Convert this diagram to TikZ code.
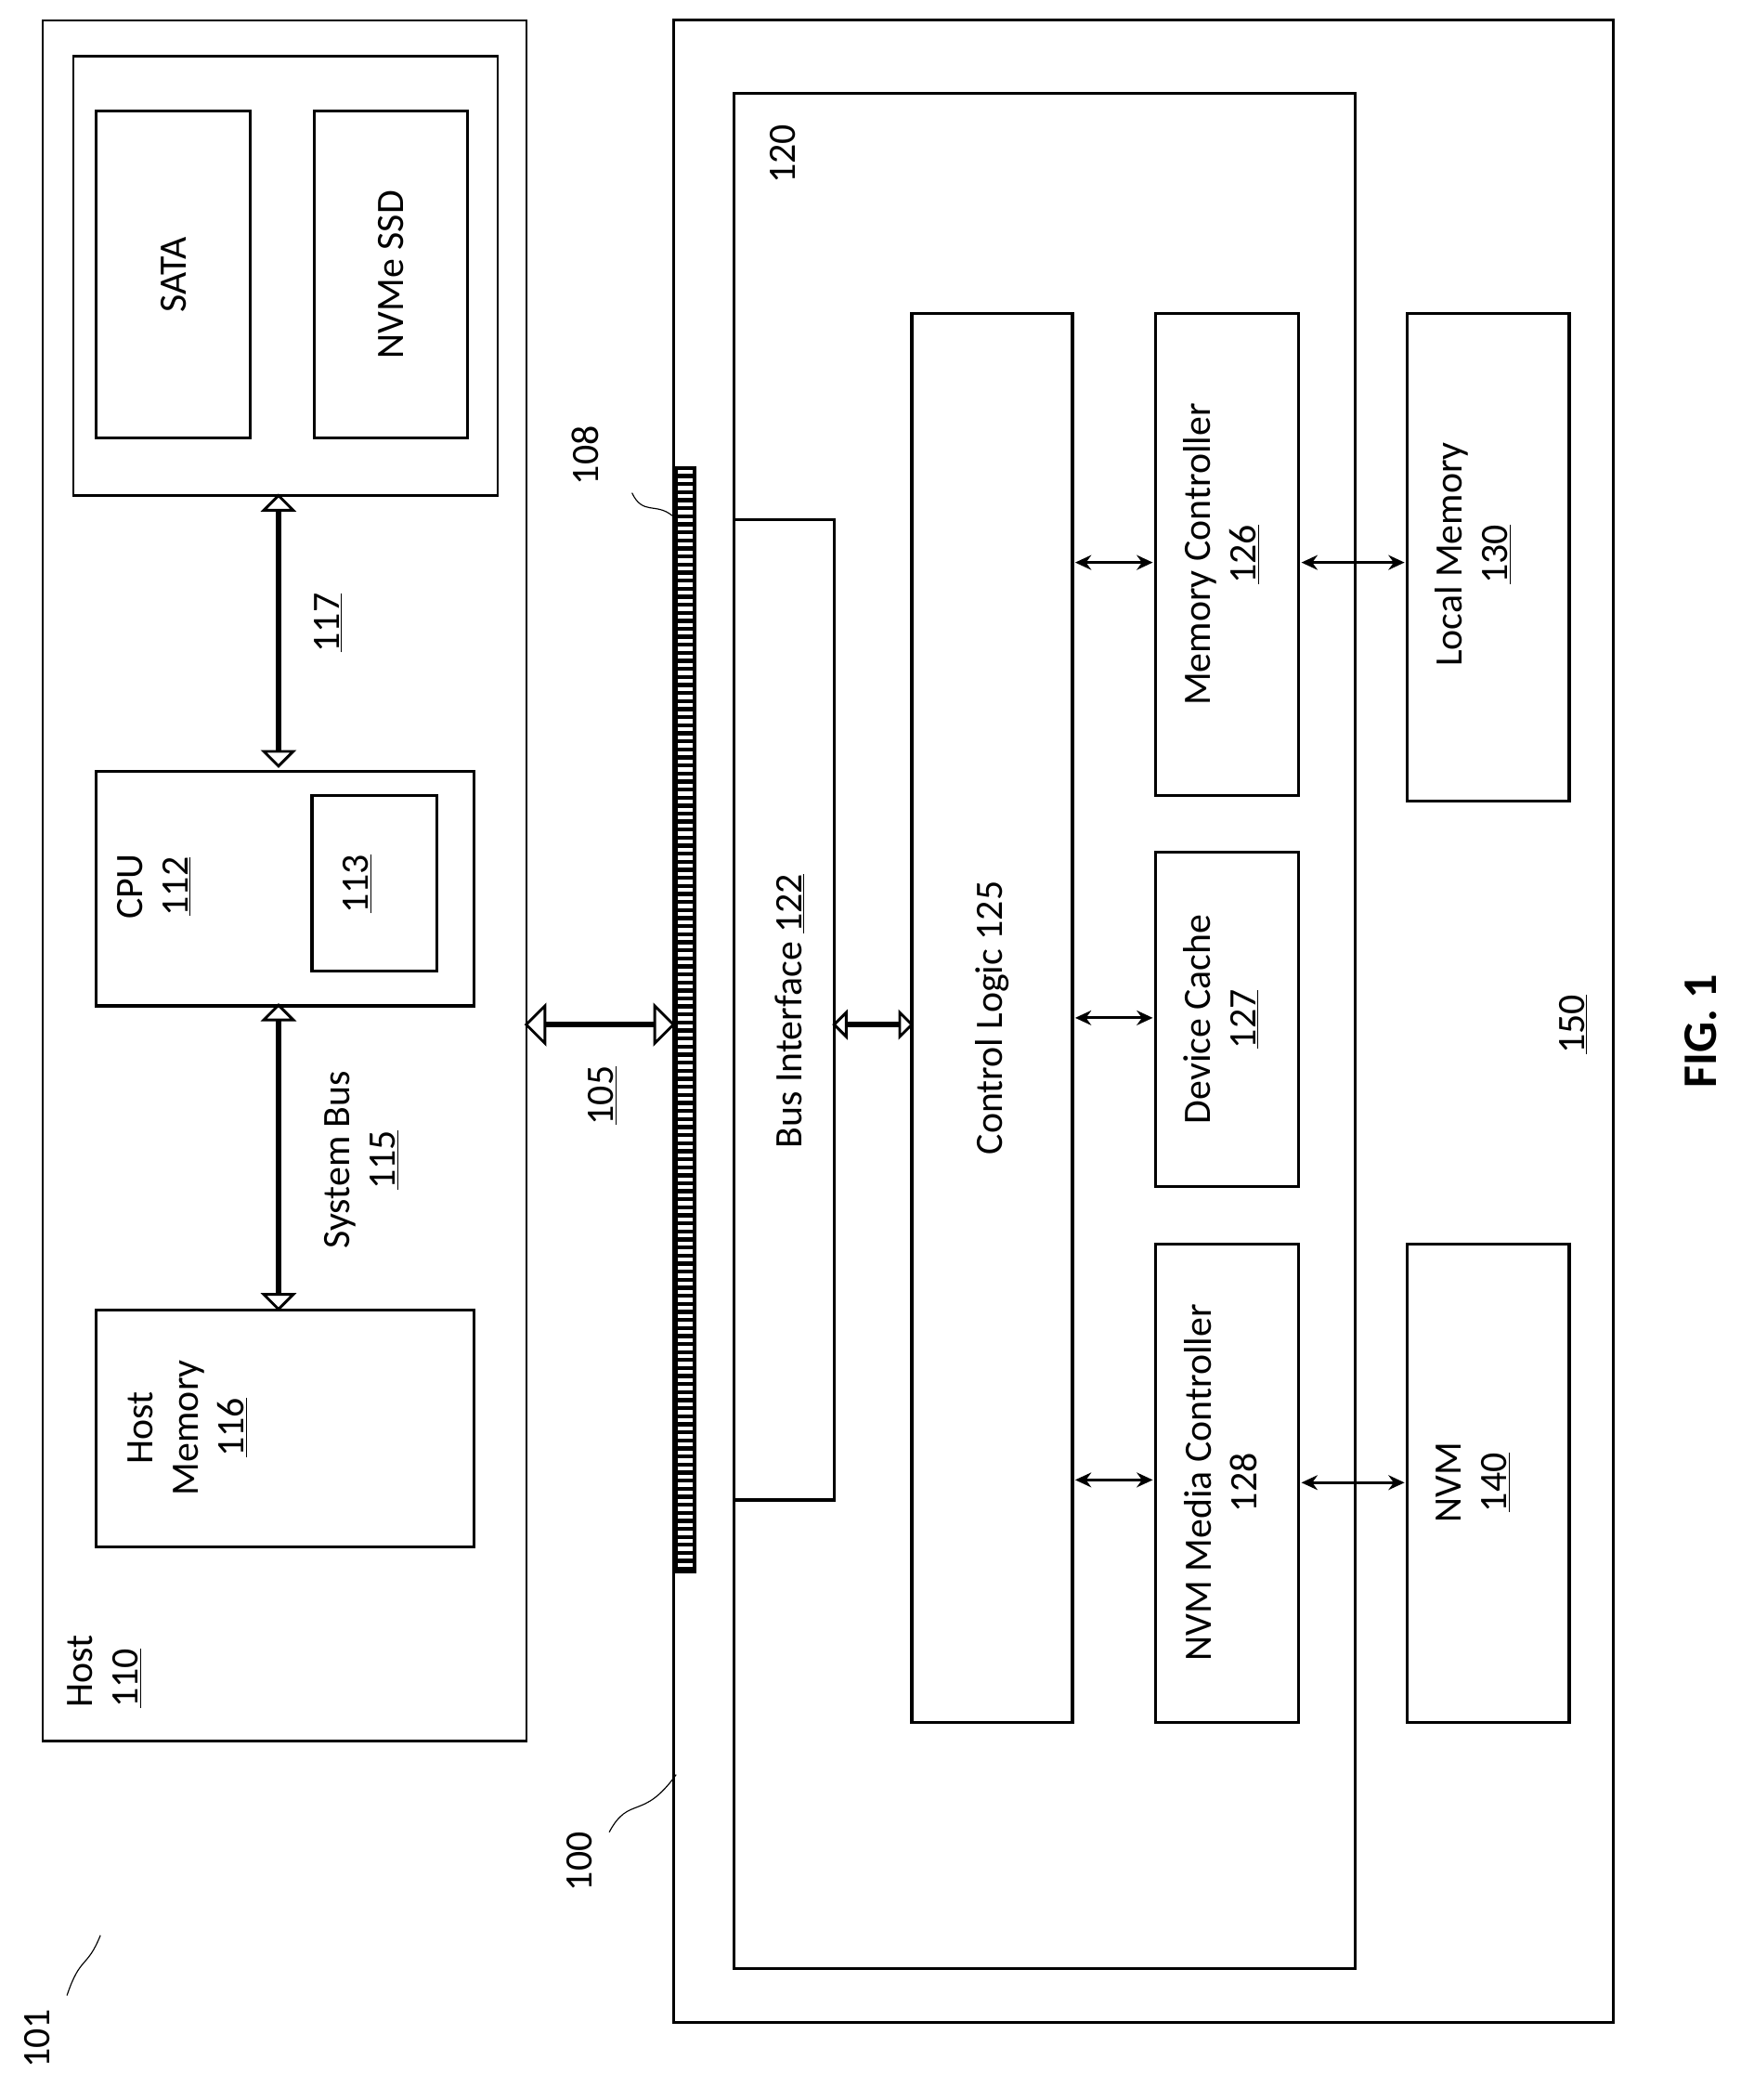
\documentclass[tikz,border=0pt]{standalone}
\usepackage{fontspec}
\setmainfont{Carlito}
\usetikzlibrary{shapes.arrows,arrows.meta}
\begin{document}
\begin{tikzpicture}[x=1pt,y=-1pt,
  box/.style={draw,line width=2.2pt},
  lbl/.style={rotate=90,font=\fontsize{29}{34}\selectfont,align=center},
  darrow/.style={shape=double arrow,draw,line width=2pt,inner sep=0pt,minimum width=17,double arrow head extend=10,double arrow head indent=0},
  thin/.style={line width=2.2pt,{Stealth[length=12pt,width=11pt]}-{Stealth[length=12pt,width=11pt]}},
  sq/.style={line width=0.8pt}]
\useasboundingbox (0,0) rectangle (1300,1568);
% host
\draw[box,line width=1.5pt] (32,15) rectangle (393,1300);
\node[lbl,align=left] (hostl) at (78,1248) {Host\\\underline{110}};
\draw[box,line width=1.5pt] (55,42) rectangle (372,370);
\draw[box] (72,83) rectangle (187,327); \node[lbl] (sata) at (130,205) {SATA};
\draw[box] (235,83) rectangle (349,327); \node[lbl] (nvme) at (292,205) {NVMe SSD};
\node[darrow,minimum height=202,rotate=90] (a117) at (208,471) {};
\node[lbl] at (245,465) {\underline{117}};
\draw[box] (72,576) rectangle (354,751);
\node[lbl] (cpu) at (115,662) {CPU\\\underline{112}};
\draw[box] (233,594) rectangle (326,725); \node[lbl] (c113) at (267,660) {\underline{113}};
\node[darrow,minimum height=227,rotate=90] (sbus) at (208,864) {};
\node[lbl] at (270,866) {System Bus\\\underline{115}};
\draw[box] (72,978) rectangle (354,1155);
\node[lbl] (hm) at (140,1066) {Host\\Memory\\\underline{116}};
\node[darrow,minimum height=110,minimum width=17,double arrow head extend=13] (a105) at (448,765) {};
\node[lbl] at (450,818) {\underline{105}};
% device
\draw[box,line width=2.5pt] (503,15) rectangle (1205,1510);
\draw[box,line width=2pt] (548,70) rectangle (1012,1470);
\node[lbl] at (585,115) {120};
\draw[box] (548,388) rectangle (623,1120);
\node[lbl] (bi) at (590,755) {Bus Interface \underline{122}};
\node[darrow,minimum height=58,minimum width=16,double arrow head extend=8] (a1) at (652,765) {};
\draw[box] (681,234) rectangle (801,1286);
\node[lbl] (cl) at (741,760) {Control Logic 125};
\draw[box] (863,234) rectangle (970,594);
\node[lbl] (mc) at (912,414) {Memory Controller\\\underline{126}};
\draw[box] (863,636) rectangle (970,886);
\node[lbl] (dc) at (912,761) {Device Cache\\\underline{127}};
\draw[box] (863,929) rectangle (970,1286);
\node[lbl] (nmc) at (912,1107) {NVM Media Controller\\128};
\draw[box] (1051,234) rectangle (1172,598);
\node[lbl] (lm) at (1100,414) {Local Memory\\\underline{130}};
\draw[box] (1051,929) rectangle (1172,1286);
\node[lbl] (nvm) at (1100,1107) {NVM\\\underline{140}};
\draw[thin] (803,420) -- (861,420);
\draw[thin] (803,760) -- (861,760);
\draw[thin] (803,1105) -- (861,1105);
\draw[thin] (972,420) -- (1049,420);
\draw[thin] (972,1107) -- (1049,1107);
\node[lbl] at (1175,765) {\underline{150}};
\node[rotate=90,font=\fontsize{36}{40}\selectfont\bfseries] at (1270,770) {FIG. 1};
% connector 108
\fill[black] (503,348) rectangle (520,1175);
\foreach \y in {351,357,...,1170} \fill[white] (506,\y) rectangle (517,\y+3);
\node[lbl] at (437,340) {108};
\draw[sq] (472,368) .. controls (480,385) and (490,375) .. (502,385);
\node[lbl] at (433,1390) {100};
\draw[sq] (455,1368) .. controls (470,1340) and (480,1360) .. (505,1325);
\node[lbl] at (28,1522) {101};
\draw[sq] (50,1490) .. controls (60,1460) and (65,1470) .. (75,1445);
\end{tikzpicture}
\end{document}
